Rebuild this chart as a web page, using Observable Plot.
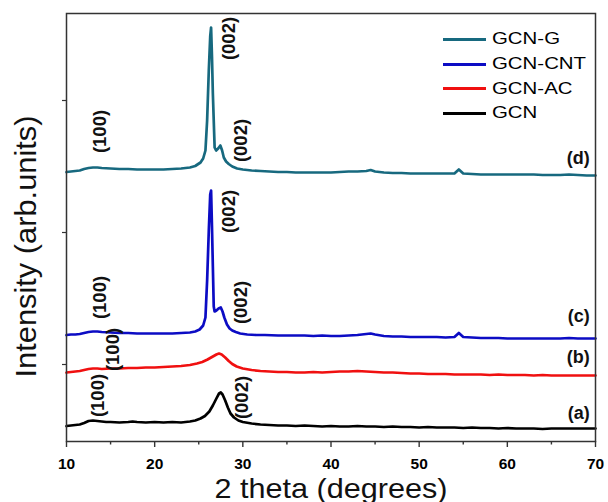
<!DOCTYPE html>
<html>
<head>
<meta charset="utf-8">
<script src="https://cdn.jsdelivr.net/npm/d3@7"></script>
<script src="https://cdn.jsdelivr.net/npm/@observablehq/plot@0.6"></script>
<style>
  html, body { margin: 0; padding: 0; background: #fff; }
  #chart { position: relative; width: 608px; height: 502px; font-family: "Liberation Sans", Arial, sans-serif; }
  #legend { position: absolute; left: 443px; top: 27px; }
  .row { position: relative; height: 24.7px; display: flex; align-items: center; }
  .swatch { width: 43px; height: 3px; margin-right: 6px; }
  .name { font-size: 17px; color: #000; transform: scaleX(1.2); transform-origin: left center; white-space: nowrap; }
</style>
</head>
<body>
<div id="chart"><div id="legend"></div></div>
<script>
// XRD patterns, 2θ (degrees) vs. stacked intensity (arb. units)
const seriesNames = ["GCN-G", "GCN-CNT", "GCN-AC", "GCN"];
const seriesColors = ["#17697f", "#0c0cc4", "#f01010", "#000000"];

const gcn = [[10,70.5],[10.5,71],[11,71.5],[11.5,72],[12,73.5],[12.5,75.5],[13,76],[13.5,75.5],[14,75],[14.5,74.5],[15,74.5],[16,74],[17,74.5],[17.5,75],[18,74.5],[19,74],[20,74.5],[21,74],[22,74.5],[23,74],[24,75],[24.6,76],[25.2,78],[25.7,80.5],[26.2,85],[26.6,91],[27,98],[27.3,103],[27.5,104],[27.7,102],[28,96],[28.3,89],[28.6,83],[29,79],[29.5,76],[30,74.5],[31,73],[32,72],[33,71.5],[34,71],[35,71],[36,70.5],[37,71],[38,70.5],[39,70],[40,70.5],[41,70],[42,70],[43,70.5],[44,70],[45,70],[46,69.5],[47,70],[48,69.5],[49,69.5],[50,69],[51,69.5],[52,69],[53,69],[54,69],[55,68.5],[56,69],[57,68.5],[58,68.5],[59,68],[60,68.5],[61,68],[62,68],[63,68],[64,67.5],[65,68],[66,68],[67,68],[68,68],[69,68],[70,68]];

const gcnAC = [[10,124],[10.5,124.5],[11,125],[11.5,125.5],[12,126.5],[12.5,127.5],[13,128],[13.5,128],[14,127.5],[15,128],[16,128],[17,128.5],[18,128.5],[19,129],[20,129],[21,129.5],[22,130],[23,130.5],[24,131.5],[24.8,133],[25.4,134.5],[26,137],[26.5,139.5],[27,142],[27.3,143],[27.6,142],[28,139],[28.4,135.5],[28.8,132.5],[29.3,130],[30,128],[31,126.5],[32,125.5],[33,125],[34,124.5],[35,124.5],[36,124],[37,124],[38,124.5],[39,124],[40,124.5],[41,125],[42,125],[43,125.5],[44,125],[45,124.5],[46,124],[47,124],[48,123.5],[49,123],[50,123],[51,122.5],[52,122.5],[53,122.5],[54,122],[55,122],[56,122],[57,122],[58,121.5],[59,122],[60,121.5],[61,121.5],[62,121.5],[63,121],[64,121.5],[65,121],[66,121],[67,121],[68,121],[69,121],[70,121]];

const gcnCNT = [[10,161.5],[10.5,162],[11,162],[11.5,162.5],[12,163.5],[12.5,164.5],[13,165],[13.5,165],[14,164.5],[15,164],[16,163.5],[17,163.5],[18,163],[19,163],[20,163],[21,163],[22,163],[23,163.5],[24,164],[24.6,165],[25.1,167],[25.5,171],[25.76,179],[25.95,216],[26.14,266],[26.3,302],[26.4,306],[26.5,270],[26.6,230],[26.7,190],[26.8,185],[27,186],[27.25,188],[27.5,189],[27.7,185],[27.9,179],[28.2,172],[28.5,168],[28.8,166],[29.2,164.5],[29.7,163],[30.5,162],[31.5,161.5],[32.5,161.5],[34,161],[35,161],[36,161],[37,161],[38,160.5],[39,161],[40,160.5],[41,160.5],[42,161],[43,161.5],[44,162.5],[44.5,163],[45,162],[46,160.5],[47,160],[48,160],[49,159.5],[50,159.5],[51,159.5],[52,159.5],[53,159],[54,159.5],[54.5,163.5],[55,159.5],[56,159],[57,158.5],[58,158.5],[59,158.5],[60,158],[61,158],[62,158],[63,158],[64,158],[65,158],[66,158],[67,158.5],[68,158],[69,158],[70,158]];

const gcnG = [[10,324.5],[10.5,325],[11,325.5],[11.5,326],[12,327.5],[12.5,328.5],[13,329],[13.5,329],[14,328.5],[15,328],[16,327.5],[17,327.5],[18,327],[19,327],[20,327],[21,327],[22,327.5],[23,328],[24,329],[24.6,330.5],[25.2,334],[25.5,338],[25.76,346],[25.95,376],[26.14,426],[26.3,460],[26.4,469],[26.5,440],[26.6,403],[26.8,349],[26.97,346],[27.2,348],[27.45,351],[27.65,346],[27.84,339],[28.1,335],[28.4,332.5],[28.8,330],[29.35,328],[30,327],[31,326],[32,325.5],[33,325],[34,324.5],[35,324.5],[36,324],[37,324],[38,324],[39,324],[40,324],[41,324.5],[42,325],[43,325],[44,325.5],[44.5,326.5],[45,325],[46,324],[47,323.5],[48,323.5],[49,323],[50,323],[51,323],[52,323],[53,323],[54,323],[54.5,327],[55,323],[56,322.5],[57,322],[58,322],[59,322],[60,322],[61,322],[62,322],[63,322],[64,321.5],[65,321.5],[66,321.5],[67,322],[68,321.5],[69,321],[70,321]];

// Reflection labels, anchored at their text centres
const reflections = [
  {label: "(002)", theta: 28.45, value: 458},
  {label: "(002)", theta: 29.85, value: 356},
  {label: "(100)", theta: 13.86, value: 365},
  {label: "(002)", theta: 28.45, value: 285},
  {label: "(002)", theta: 29.75, value: 194},
  {label: "(100)", theta: 13.86, value: 199},
  {label: "(100)", theta: 15.33, value: 147},
  {label: "(100)", theta: 13.63, value: 101},
  {label: "(002)", theta: 29.96, value: 99}
];

// Curve letters at the right edge
const curveTags = [
  {label: "(a)", theta: 69.35, value: 83},
  {label: "(b)", theta: 69.35, value: 139},
  {label: "(c)", theta: 69.35, value: 180},
  {label: "(d)", theta: 69.35, value: 338}
];

const xTicks = [10, 20, 30, 40, 50, 60, 70];
const xMinorTicks = [15, 25, 35, 45, 55, 65];
const yTicks = [132, 264, 396];

const xTitle = "2 theta (degrees)";
const yTitle = "Intensity (arb.units)";

const seriesData = [gcnG, gcnCNT, gcnAC, gcn];

const font = "'Liberation Sans', Arial, sans-serif";

const plot = Plot.plot({
  width: 608,
  height: 502,
  marginLeft: 66,
  marginRight: 13,
  marginTop: 13,
  marginBottom: 61,
  style: {fontFamily: font, background: "transparent", overflow: "visible"},
  x: {domain: [10, 70]},
  y: {domain: [55, 483]},
  marks: [
    Plot.axisX({ticks: xTicks, tickSize: 6, tickFormat: () => "", label: null, stroke: "#333", strokeWidth: 1.4}),
    Plot.axisX({ticks: xMinorTicks, tickSize: 3.5, tickFormat: () => "", label: null, stroke: "#333", strokeWidth: 1.4}),
    // bold tick numbers below the frame
    Plot.text(xTicks, {x: d => d, frameAnchor: "bottom", dy: 16, lineAnchor: "top", text: d => String(d), fontSize: 15.5, fontWeight: "bold", fill: "#000"}),
    Plot.axisY({ticks: yTicks, tickSize: 4, tickFormat: () => "", label: null, stroke: "#333", strokeWidth: 1.2}),
    ...seriesData.map((d, i) => Plot.line(d, {x: d => d[0], y: d => d[1], stroke: seriesColors[i], strokeWidth: 2.7, strokeLinejoin: "round"})),
    Plot.text(reflections, {x: "theta", y: "value", text: "label", rotate: -90, fontSize: 18.5, fontWeight: "bold", fill: "#111"}),
    Plot.text(curveTags, {x: "theta", y: "value", text: "label", textAnchor: "end", fontSize: 18, fontWeight: "bold", fill: "#111"}),
    Plot.text([xTitle], {frameAnchor: "bottom", dy: 56, lineAnchor: "bottom", textAnchor: "middle", fontSize: 28, fill: "#111"}),
    Plot.text([yTitle], {frameAnchor: "left", dx: -31, dy: 19, rotate: -90, lineAnchor: "bottom", textAnchor: "middle", fontSize: 29, fill: "#111"}),
    Plot.frame({stroke: "#333", strokeWidth: 1.5})
  ]
});

// widen the axis titles a little
d3.select(plot).selectAll("text").each(function() {
  const t = this.textContent;
  const sel = d3.select(this);
  if (t === xTitle) sel.attr("textLength", 233).attr("lengthAdjust", "spacingAndGlyphs");
  if (t === yTitle) sel.attr("textLength", 262).attr("lengthAdjust", "spacingAndGlyphs");
});

const chart = document.getElementById("chart");
chart.insertBefore(plot, chart.firstChild);

// legend
const legend = d3.select("#legend");
seriesNames.forEach((name, i) => {
  const row = legend.append("div").attr("class", "row");
  row.append("div").attr("class", "swatch").style("background", seriesColors[i]);
  row.append("div").attr("class", "name").text(name);
});
</script>
</body>
</html>
